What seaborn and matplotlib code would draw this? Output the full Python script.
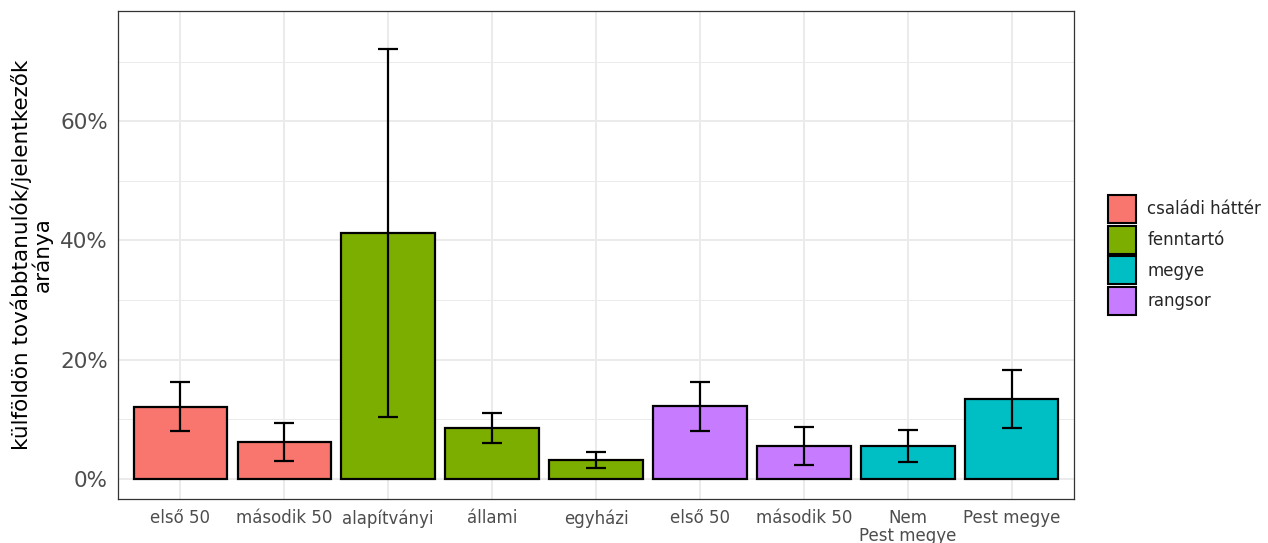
import numpy as np
import pandas as pd
import matplotlib
matplotlib.use("Agg")
import matplotlib.pyplot as plt
import seaborn as sns
from matplotlib.patches import Patch
from matplotlib.ticker import FuncFormatter, MultipleLocator

# Data (percent)
labels = ["első 50", "második 50", "alapítványi", "állami", "egyházi",
          "első 50", "második 50", "Nem\nPest megye", "Pest megye"]
groups = ["családi háttér", "családi háttér", "fenntartó", "fenntartó", "fenntartó",
          "rangsor", "rangsor", "megye", "megye"]
rate = [12.1, 6.15, 41.2, 8.55, 3.15, 12.15, 5.5, 5.5, 13.4]
lower = [7.95, 2.95, 10.35, 6.0, 1.8, 8.0, 2.3, 2.8, 8.55]
upper = [16.3, 9.3, 72.2, 11.1, 4.55, 16.3, 8.7, 8.25, 18.2]

hue_order = ["családi háttér", "fenntartó", "megye", "rangsor"]
palette = ["#F8766D", "#7CAE00", "#00BFC4", "#C77CFF"]

df = pd.DataFrame({
    "key": [f"{g}|{l}" for g, l in zip(groups, labels)],
    "label": labels,
    "group": groups,
    "rate": rate,
    "lower": lower,
    "upper": upper,
})

sns.set_theme(style="white")
plt.rcParams['font.family'] = ['DejaVu Sans']

fig = plt.figure(figsize=(12.68, 5.43), dpi=100)
ax = fig.add_axes([118 / 1268, 1 - 499 / 543, (1074 - 118) / 1268, (499 - 11) / 543])

sns.barplot(data=df, x="key", y="rate", hue="group", hue_order=hue_order,
            palette=palette, order=df["key"], dodge=False, width=0.9,
            edgecolor="black", linewidth=1.6, saturation=1, errorbar=None,
            legend=False, ax=ax, zorder=2)

xpos = np.arange(len(df))
ax.errorbar(xpos, df["rate"],
            yerr=[df["rate"] - df["lower"], df["upper"] - df["rate"]],
            fmt="none", ecolor="black", elinewidth=1.6, capsize=7.5,
            capthick=1.6, zorder=3)

ax.set_xlim(-0.6, len(df) - 0.4)
ax.set_ylim(-3.4, 78.5)
ax.yaxis.set_major_locator(MultipleLocator(20))
ax.yaxis.set_minor_locator(MultipleLocator(10))
ax.yaxis.set_major_formatter(FuncFormatter(lambda v, p: f"{v:.0f}%"))
ax.set_xticks(xpos)
ax.set_xticklabels(df["label"], fontsize=12, color="#4D4D4D", linespacing=1.0)
ax.tick_params(axis="y", labelsize=15.5, colors="#4D4D4D", length=4.3, width=1, pad=3)
ax.tick_params(axis="x", colors="#4D4D4D", length=4.3, width=1, pad=3)
ax.tick_params(axis="both", which="minor", length=0)

ax.grid(True, which="major", color="#EBEBEB", linewidth=1.4, zorder=0)
ax.grid(True, which="minor", axis="y", color="#EBEBEB", linewidth=0.7, zorder=0)
ax.set_axisbelow(True)
for s in ax.spines.values():
    s.set_color("#333333")
    s.set_linewidth(0.9)

ax.set_xlabel("")
ax.set_ylabel("külföldön továbbtanulók/jelentkezők\naránya", fontsize=15.5,
              color="black", linespacing=1.0, labelpad=5)

handles = [Patch(facecolor=c, edgecolor="black", linewidth=1.5, label=g)
           for g, c in zip(hue_order, palette)]
fig.legend(handles=handles, loc="center left", bbox_to_anchor=(1101 / 1268, 1 - 255 / 543),
           frameon=False, fontsize=12, handlelength=1.68, handleheight=2.21,
           labelspacing=0.16, handletextpad=0.7, borderaxespad=0)

fig.savefig("out.png", dpi=100)
